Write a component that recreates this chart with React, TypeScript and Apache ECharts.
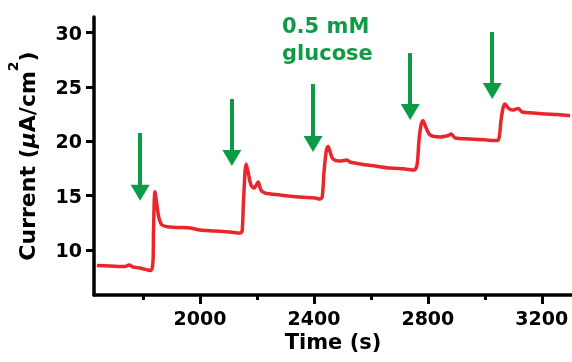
import React, { useEffect, useRef } from "react";
import * as echarts from "echarts";

const timeS = [
  1638, 1684, 1737, 1751, 1765, 1789, 1817, 1828, 1835, 1837, 1842, 1849, 1856, 1867,
  1895, 1930, 1965, 2000, 2053, 2105, 2141, 2148, 2153, 2162, 2169, 2179, 2190, 2204,
  2214, 2228, 2281, 2351, 2404, 2421, 2429, 2436, 2444, 2450, 2457, 2467, 2492, 2516,
  2527, 2562, 2615, 2667, 2720, 2752, 2762, 2769, 2776, 2783, 2794, 2808, 2843, 2871,
  2882, 2896, 2948, 3009, 3043, 3050, 3057, 3064, 3071, 3082, 3096, 3117, 3131, 3170,
  3212, 3254, 3299,
];
const currentDensity = [
  8.57, 8.53, 8.48, 8.62, 8.44, 8.34, 8.16, 8.11, 8.9, 11.84, 15.36, 14.14, 12.94, 12.3,
  12.11, 12.07, 12.02, 11.84, 11.75, 11.66, 11.56, 11.75, 14.6, 17.91, 17.17, 15.98, 15.7, 16.25,
  15.52, 15.24, 15.06, 14.87, 14.78, 14.69, 14.87, 17.36, 19.2, 19.52, 19.01, 18.37, 18.18, 18.28,
  18.09, 17.91, 17.72, 17.54, 17.45, 17.36, 17.82, 20.11, 21.49, 21.89, 21.22, 20.57, 20.39, 20.53,
  20.67, 20.3, 20.21, 20.11, 20.07, 20.3, 21.95, 23.06, 23.43, 23.06, 22.87, 23.01, 22.69, 22.6,
  22.51, 22.46, 22.35,
];

const arrowTimes = [1790, 2112, 2397, 2738, 3026];
const arrowTops = [20.76, 23.89, 25.26, 28.11, 30.05];
const arrowHeads = [15.27, 18.46, 19.75, 22.69, 24.62];

const xMajorTicks = [2000, 2400, 2800, 3200];
const xMinorTicks = [1800, 2200, 2600, 3000];
const yTicks = [10, 15, 20, 25, 30];

const annotationText = "0.5 mM\nglucose";

const FONT = "DejaVu Sans";
const GREEN = "#0f9b45";
const RED = "#e8262b";

export default function App() {
  const ref = useRef<HTMLDivElement>(null);

  useEffect(() => {
    if (!ref.current) return;
    const chart = echarts.init(ref.current, undefined, { renderer: "svg" });
    const data = timeS.map((t, i) => [t, currentDensity[i]]);
    const arrowData = arrowTimes.map((t, i) => [
      { coord: [t, arrowTops[i]] },
      { coord: [t, arrowHeads[i]] },
    ]);

    const axisLineStyle = { color: "#000", width: 3.5 };

    chart.setOption({
      animation: false,
      grid: {
        left: 94,
        right: 0,
        top: 17,
        bottom: 67,
        containLabel: false,
        outerBoundsMode: "none",
      },
      xAxis: [
        {
          type: "value",
          min: 1628,
          max: 3306,
          position: "bottom",
          splitLine: { show: false },
          axisLine: { show: true, lineStyle: axisLineStyle },
          axisTick: {
            show: true,
            customValues: xMajorTicks,
            length: 9,
            lineStyle: { color: "#000", width: 3 },
          },
          axisLabel: {
            customValues: xMajorTicks,
            formatter: (v: number) => String(v),
            margin: 13,
            color: "#000",
            fontFamily: FONT,
            fontWeight: "bold",
            fontSize: 19,
          },
          name: "Time (s)",
          nameLocation: "middle",
          nameGap: 31,
          nameTextStyle: {
            color: "#000",
            fontFamily: FONT,
            fontWeight: "bold",
            fontSize: 21,
            verticalAlign: "top",
          },
        },
        {
          type: "value",
          min: 1628,
          max: 3306,
          position: "bottom",
          splitLine: { show: false },
          axisLine: { show: false },
          axisTick: {
            show: true,
            customValues: xMinorTicks,
            length: 5,
            lineStyle: { color: "#000", width: 3 },
          },
          axisLabel: { show: false },
        },
      ],
      yAxis: {
        type: "value",
        min: 5.86,
        max: 31.43,
        splitLine: { show: false },
        axisLine: { show: true, lineStyle: axisLineStyle },
        axisTick: {
          show: true,
          customValues: yTicks,
          length: 8,
          lineStyle: { color: "#000", width: 3 },
        },
        axisLabel: {
          customValues: yTicks,
          formatter: (v: number) => String(v),
          margin: 12,
          color: "#000",
          fontFamily: FONT,
          fontWeight: "bold",
          fontSize: 19,
        },
        name: "{a|Current (}{i|μ}{a|A/cm}{s|2}{a|)}",
        nameLocation: "middle",
        nameGap: 56,
        nameRotate: 90,
        nameTextStyle: {
          color: "#000",
          fontFamily: FONT,
          fontWeight: "bold",
          fontSize: 22,
          rich: {
            a: {
              fontFamily: FONT,
              fontWeight: "bold",
              fontSize: 22,
              color: "#000",
              lineHeight: 22,
              verticalAlign: "bottom",
            },
            i: {
              fontFamily: FONT,
              fontWeight: "bold",
              fontStyle: "italic",
              fontSize: 22,
              color: "#000",
              lineHeight: 22,
              verticalAlign: "bottom",
            },
            s: {
              fontFamily: FONT,
              fontWeight: "bold",
              fontSize: 14,
              color: "#000",
              lineHeight: 32,
              verticalAlign: "top",
              padding: [0, 0, 18, 0],
            },
          },
        },
      },
      series: [
        {
          type: "line",
          data,
          showSymbol: false,
          symbol: "none",
          smooth: 0.3,
          lineStyle: { color: RED, width: 3.5 },
          silent: true,
          markLine: {
            silent: true,
            symbol: ["none", "triangle"],
            symbolSize: [19, 16],
            label: { show: false },
            emphasis: { disabled: true },
            lineStyle: { color: GREEN, width: 4, type: "solid" },
            data: arrowData,
          },
        },
      ],
      graphic: [
        {
          type: "text",
          left: 282,
          top: 12,
          silent: true,
          style: {
            text: annotationText,
            fill: GREEN,
            font: `bold 21px "${FONT}"`,
            lineHeight: 27,
          },
        },
      ],
    });

    return () => {
      chart.dispose();
    };
  }, []);

  return (
    <div
      ref={ref}
      style={{ position: "fixed", left: 0, top: 0, width: 572, height: 362 }}
    />
  );
}
